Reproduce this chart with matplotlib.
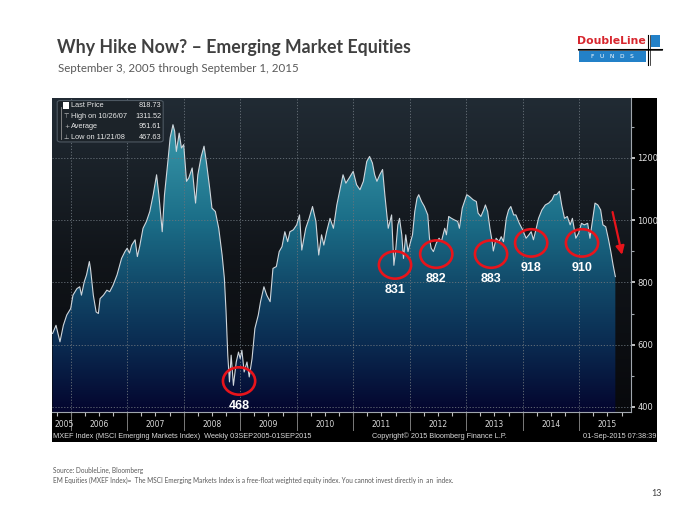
import numpy as np
import matplotlib
matplotlib.use('Agg')
import matplotlib.pyplot as plt
from matplotlib.colors import LinearSegmentedColormap
from matplotlib.patches import Rectangle, Ellipse, Polygon, FancyBboxPatch, FancyArrowPatch
import matplotlib.transforms as mtransforms

# MXEF weekly close (decimal year, index level)
years = [2005.68, 2005.74, 2005.81, 2005.87, 2005.93, 2006.00, 2006.04, 2006.11, 2006.16, 2006.19,
         2006.24, 2006.28, 2006.33, 2006.35, 2006.40, 2006.45, 2006.49, 2006.52, 2006.58, 2006.64,
         2006.69, 2006.75, 2006.82, 2006.90, 2006.96, 2007.00, 2007.04, 2007.08, 2007.14, 2007.18,
         2007.22, 2007.28, 2007.34, 2007.40, 2007.46, 2007.52, 2007.56, 2007.62, 2007.66, 2007.72,
         2007.76, 2007.81, 2007.84, 2007.87, 2007.92, 2007.96, 2008.00, 2008.05, 2008.09, 2008.15,
         2008.21, 2008.25, 2008.31, 2008.36, 2008.40, 2008.46, 2008.50, 2008.56, 2008.62, 2008.68,
         2008.72, 2008.75, 2008.78, 2008.81, 2008.84, 2008.88, 2008.93, 2008.97, 2009.00, 2009.03,
         2009.07, 2009.12, 2009.16, 2009.21, 2009.26, 2009.32, 2009.36, 2009.42, 2009.47, 2009.53,
         2009.58, 2009.64, 2009.69, 2009.74, 2009.79, 2009.84, 2009.88, 2009.94, 2010.00, 2010.05,
         2010.09, 2010.16, 2010.22, 2010.28, 2010.34, 2010.39, 2010.44, 2010.48, 2010.53, 2010.59,
         2010.65, 2010.71, 2010.76, 2010.82, 2010.87, 2010.93, 2011.00, 2011.06, 2011.12, 2011.18,
         2011.24, 2011.29, 2011.34, 2011.38, 2011.42, 2011.47, 2011.52, 2011.56, 2011.62, 2011.68,
         2011.72, 2011.75, 2011.79, 2011.82, 2011.86, 2011.89, 2011.93, 2011.97, 2012.00, 2012.05,
         2012.09, 2012.13, 2012.16, 2012.21, 2012.26, 2012.32, 2012.35, 2012.38, 2012.42, 2012.47,
         2012.52, 2012.56, 2012.62, 2012.65, 2012.69, 2012.74, 2012.79, 2012.85, 2012.88, 2012.93,
         2012.97, 2013.01, 2013.06, 2013.12, 2013.18, 2013.21, 2013.26, 2013.31, 2013.34, 2013.38,
         2013.42, 2013.46, 2013.48, 2013.53, 2013.58, 2013.62, 2013.66, 2013.71, 2013.75, 2013.79,
         2013.84, 2013.88, 2013.94, 2014.00, 2014.06, 2014.11, 2014.15, 2014.19, 2014.24, 2014.28,
         2014.34, 2014.40, 2014.46, 2014.52, 2014.56, 2014.60, 2014.65, 2014.69, 2014.74, 2014.79,
         2014.84, 2014.88, 2014.94, 2014.99, 2015.04, 2015.09, 2015.15, 2015.19, 2015.24, 2015.28,
         2015.33, 2015.38, 2015.42, 2015.47, 2015.52, 2015.56, 2015.60, 2015.64]
prices = [636, 662, 609, 662, 695, 716, 759, 780, 786, 759,
          802, 824, 867, 845, 759, 705, 700, 748, 759, 775,
          770, 791, 824, 877, 899, 910, 894, 920, 937, 883,
          915, 974, 996, 1028, 1082, 1146, 1082, 963, 1082, 1189,
          1265, 1307, 1286, 1221, 1280, 1232, 1243, 1125, 1136, 1168,
          1055, 1146, 1205, 1238, 1189, 1103, 1039, 1028, 974, 888,
          813, 705, 566, 480, 566, 469, 544, 576, 555, 582,
          512, 544, 496, 555, 652, 695, 738, 786, 759, 738,
          845, 851, 899, 915, 963, 931, 963, 969, 985, 1017,
          904, 974, 1006, 1044, 996, 888, 953, 920, 963, 1006,
          974, 1049, 1093, 1146, 1119, 1136, 1157, 1114, 1098, 1125,
          1189, 1205, 1184, 1146, 1125, 1146, 1163, 1082, 974, 1017,
          855, 899, 985, 1006, 953, 877, 953, 899, 920, 953,
          1028, 1071, 1082, 1060, 1044, 1017, 942, 910, 899, 926,
          942, 931, 974, 953, 1012, 1006, 1001, 996, 974, 1039,
          1060, 1082, 1076, 1066, 1060, 1023, 1012, 1033, 1049, 1028,
          974, 931, 901, 942, 931, 947, 931, 1006, 1033, 1044,
          1017, 1017, 990, 969, 942, 953, 963, 937, 974, 1006,
          1033, 1049, 1055, 1066, 1082, 1082, 1093, 1049, 1006, 1012,
          985, 1006, 942, 958, 990, 985, 990, 942, 1006, 1055,
          1049, 1033, 985, 979, 937, 899, 856, 818.73]

# circled lows: label, decimal year of circle centre, level of circle centre
low_labels = ['468', '831', '882', '883', '918', '910']
low_years = [2008.98, 2011.74, 2012.47, 2013.44, 2014.15, 2015.05]
low_levels = [483, 856, 891, 891, 927, 927]

year_ticks = list(range(2006, 2016))
year_names = ['2005'] + [str(y) for y in year_ticks]
y_major = [400, 600, 800, 1000, 1200]
y_minor = [500, 700, 900, 1100, 1300]

legend_rows = [('Last Price', '818.73'), ('High on 10/26/07', '1311.52'),
               ('Average', '951.61'), ('Low on 11/21/08', '467.63')]

x0, x1 = 2005.669, 2015.917
y0, y1 = 383.3, 1392.9

fig = plt.figure(figsize=(7, 5.25), dpi=100)
fig.patch.set_facecolor('white')
W, H = 700.0, 525.0

def fx(px):
    return px / W

def fy(py):
    return 1 - py / H

# black Bloomberg panel (behind the axes)
panel = fig.add_axes([fx(52), fy(442), fx(657) - fx(52), fy(98) - fy(442)], zorder=-5)
panel.set_facecolor('black')
panel.set_xticks([])
panel.set_yticks([])
for s in panel.spines.values():
    s.set_visible(False)

ax = fig.add_axes([fx(52), fy(412), fx(631) - fx(52), fy(98) - fy(412)], zorder=1)
ax.set_xlim(x0, x1)
ax.set_ylim(y0, y1)
ax.set_facecolor('none')

# background gradient
bg_cmap = LinearSegmentedColormap.from_list('bg', ['#08090c', '#11151a', '#212b34'])
grad = np.linspace(0, 1, 256).reshape(-1, 1)
ax.imshow(grad, extent=[x0, x1, y0, y1], origin='lower', aspect='auto', cmap=bg_cmap, zorder=0)

# area fill gradient clipped to the price polygon
fill_cmap = LinearSegmentedColormap.from_list(
    'fill', [(0.0, '#04052e'), (0.21, '#0a2a50'), (0.41, '#124a6a'), (0.61, '#1b6e88'), (1.0, '#42a4b4')])
verts = np.column_stack([[years[0]] + years + [years[-1]], [y0] + prices + [y0]])
poly = Polygon(verts, closed=True, facecolor='none', edgecolor='none')
ax.add_patch(poly)
im = ax.imshow(grad, extent=[x0, x1, y0, y1], origin='lower', aspect='auto', cmap=fill_cmap, zorder=1)
im.set_clip_path(poly)

ax.plot(years, prices, color='#cfd6dc', lw=0.8, zorder=3)

# grid
for yt in year_ticks:
    ax.axvline(yt, color='#6a737b', lw=0.6, ls=(0, (1.5, 2)), zorder=2)
for yv in y_major:
    ax.axhline(yv, color='#6a737b', lw=0.6, ls=(0, (1.5, 2)), zorder=2)

# axes styling
for s in ['left', 'top']:
    ax.spines[s].set_visible(False)
ax.spines['right'].set_color('#a0a6ad')
ax.spines['bottom'].set_color('#a0a6ad')
ax.spines['right'].set_linewidth(0.8)
ax.spines['bottom'].set_linewidth(0.8)
ax.yaxis.tick_right()
ax.set_yticks(y_major)
ax.set_yticks(y_minor, minor=True)
ax.tick_params(axis='y', which='major', direction='out', length=3, width=1.2, colors='#e0e0e0',
               labelsize=6, pad=1.5)
ax.tick_params(axis='y', which='minor', direction='out', length=2, width=0.8, colors='#a0a6ad')
ax.set_xticks(year_ticks)
ax.set_xticks(np.arange(2005.75, 2015.9, 0.25), minor=True)
ax.set_xticklabels([])
ax.tick_params(axis='x', which='both', direction='out', length=3, width=0.8, colors='#c0c0c0')

# year labels and separators in the bottom strip
tr = mtransforms.blended_transform_factory(ax.transData, ax.transAxes)
mids = [(x0 + 2006) / 2 + 0.05] + [y + 0.5 for y in year_ticks]
for m, n in zip(mids, year_names):
    ax.text(m, -0.04, n, transform=tr, ha='center', va='center', color='#d8d8d8', fontsize=5.5)
for yt in year_ticks:
    ax.plot([yt, yt], [0, -0.058], transform=tr, color='#7a7a7a', lw=0.7, clip_on=False)

ax.text(0.002, -0.077, 'MXEF Index (MSCI Emerging Markets Index)  Weekly 03SEP2005-01SEP2015',
        transform=ax.transAxes, ha='left', va='center', color='#d8d8d8', fontsize=5.3, family='Liberation Sans')
fig.text(fx(439), fy(436), 'Copyright\u00a9 2015 Bloomberg Finance L.P.',
         ha='center', va='center', color='#d8d8d8', fontsize=5.3, family='Liberation Sans')
fig.text(fx(656), fy(436), '01-Sep-2015 07:38:39', ha='right', va='center', color='#d8d8d8', fontsize=5.3,
         family='Liberation Sans')

# last price tag
ax.text(1.004, prices[-1], '%.2f' % prices[-1], transform=tr, ha='left', va='center', fontsize=5.8,
        color='black', bbox=dict(boxstyle='round,pad=0.15', fc='white', ec='white'), zorder=6, clip_on=False)

# legend box
ax.add_patch(FancyBboxPatch((0.009, 0.86), 0.183, 0.132, boxstyle='round,pad=0,rounding_size=0.006',
                            transform=ax.transAxes, facecolor='#1c2329', edgecolor='#4d5862', lw=0.8, zorder=5))
row_y = [0.975, 0.942, 0.908, 0.875]
icons = ['', '\u22a4', '+', '\u22a5']
for (name, val), ry, ic in zip(legend_rows, row_y, icons):
    ax.text(0.032, ry, name, transform=ax.transAxes, ha='left', va='center', color='#e8e8e8', fontsize=5.3,
            family='Liberation Sans', zorder=6)
    ax.text(0.189, ry, val, transform=ax.transAxes, ha='right', va='center', color='#e8e8e8', fontsize=5.3,
            family='Liberation Sans', zorder=6)
    if ic:
        ax.text(0.025, ry, ic, transform=ax.transAxes, ha='center', va='center', color='#c8c8c8', fontsize=4.5, zorder=6)
ax.add_patch(Rectangle((0.019, 0.966), 0.011, 0.02, transform=ax.transAxes, facecolor='white', zorder=6))
ax.plot([0.016, 0.016], [0.87, 0.97], transform=ax.transAxes, color='#909090', lw=0.6, zorder=6)

# red circles with the lows
for lab, ly, lv in zip(low_labels, low_years, low_levels):
    ax.add_patch(Ellipse((ly, lv), 0.57, 88, facecolor='none', edgecolor='#e8141b', lw=1.9, zorder=7))
    ax.text(ly, lv - 80, lab, ha='center', va='center', color='white', fontsize=9, fontweight='bold',
            family='Liberation Sans', zorder=7)

# red arrow
ax.add_patch(FancyArrowPatch((2015.58, 1035), (2015.77, 880),
                             arrowstyle='-|>,head_length=5,head_width=2.5', color='#e8141b', lw=1.6, zorder=8))

# titles
fig.text(fx(57), fy(47), 'Why Hike Now? \u2013 Emerging Market Equities', ha='left', va='center',
         fontsize=12.8, fontweight='bold', color='#404040', family='Lato')
fig.text(fx(58), fy(68), 'September 3, 2005 through September 1, 2015', ha='left', va='center',
         fontsize=8.3, color='#595959', family='Lato')

# logo
fig.text(fx(611), fy(41), 'DoubleLine', ha='center', va='center', fontsize=7.8, fontweight='bold',
         color='#d7262e', family='Liberation Sans Narrow')
fig.patches.append(Rectangle((fx(579), fy(62)), fx(646) - fx(579), fy(51) - fy(62),
                             transform=fig.transFigure, facecolor='#2381c8', edgecolor='none'))
fig.patches.append(Rectangle((fx(651), fy(47)), fx(660) - fx(651), fy(35) - fy(47),
                             transform=fig.transFigure, facecolor='#2381c8', edgecolor='none'))
fig.lines.append(plt.Line2D([fx(578), fx(662)], [fy(48.5), fy(48.5)], transform=fig.transFigure, color='black', lw=0.8))
fig.lines.append(plt.Line2D([fx(578), fx(662)], [fy(50), fy(50)], transform=fig.transFigure, color='black', lw=0.5))
fig.lines.append(plt.Line2D([fx(647.5), fx(647.5)], [fy(35), fy(65)], transform=fig.transFigure, color='black', lw=0.8))
fig.lines.append(plt.Line2D([fx(649.5), fx(649.5)], [fy(35), fy(65)], transform=fig.transFigure, color='black', lw=0.5))
fig.text(fx(612), fy(56.5), 'F   U   N   D   S', ha='center', va='center', fontsize=4.2, color='white')

# footer
fig.text(fx(53), fy(470), 'Source: DoubleLine, Bloomberg', ha='left', va='center', fontsize=4.7, color='#595959',
         family='Lato')
fig.text(fx(53), fy(480), 'EM Equities (MXEF Index)=  The MSCI Emerging Markets Index is a free-float weighted '
         'equity index. You cannot invest directly in  an  index.', ha='left', va='center', fontsize=4.7,
         color='#595959', family='Lato')
fig.text(fx(662), fy(493), '13', ha='right', va='center', fontsize=6.5, color='#404040', family='Lato')

fig.savefig('out.png', dpi=100, facecolor='white')
